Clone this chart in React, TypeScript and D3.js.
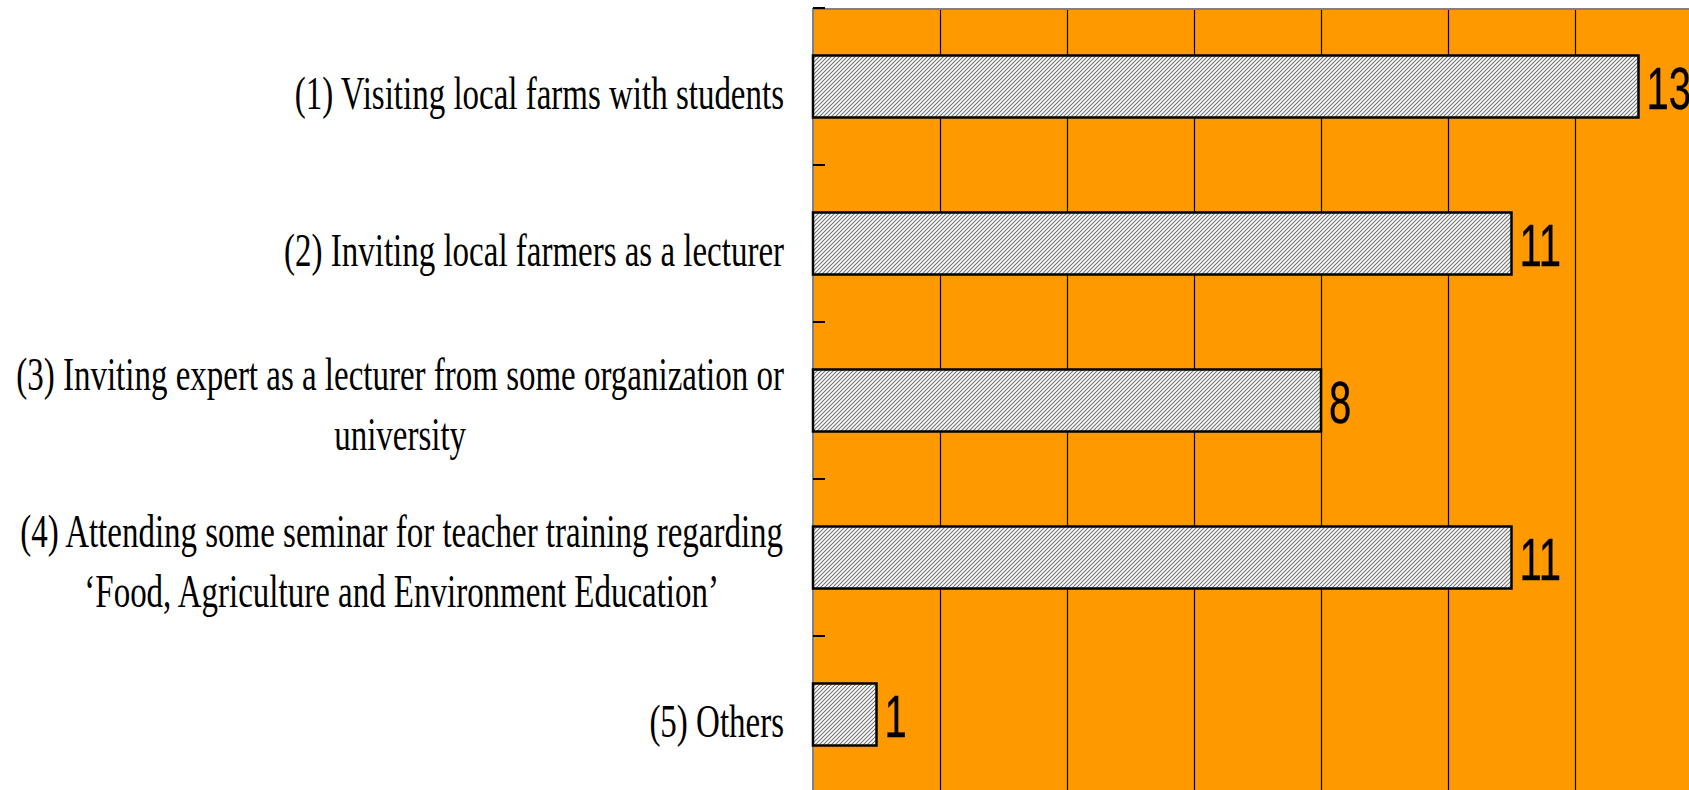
import React, { useMemo } from "react";
import * as d3 from "d3";

const categories = ["c1", "c2", "c3", "c4", "c5"];
const categoryLines: string[][] = [
  ["(1) Visiting local farms with students"],
  ["(2) Inviting local farmers as a lecturer"],
  ["(3) Inviting expert as a lecturer from some organization or", "university"],
  ["(4) Attending some seminar for teacher training regarding", "\u2018Food, Agriculture and Environment Education\u2019"],
  ["(5) Others"],
];
const values = [13, 11, 8, 11, 1];
const xDomain = [0, 14];
const gridTicks = [2, 4, 6, 8, 10, 12, 14];

const W = 1689;
const H = 790;
const LABEL_FONT = 46;
const LABEL_SX = 0.717;
const LINE_H = 60;

export default function App() {
  const x = d3.scaleLinear().domain(xDomain).range([813, 1702]);
  const y = d3
    .scaleBand<string>()
    .domain(categories)
    .range([8, 793])
    .paddingInner(0.605)
    .paddingOuter(0.3025);
  const step = y.step();
  const bw = y.bandwidth();
  const boundaries = categories.map((c) => (y(c) as number) + bw / 2 - step / 2);

  const measure = useMemo(() => {
    const cv = document.createElement("canvas");
    const ctx = cv.getContext("2d") as CanvasRenderingContext2D;
    ctx.font = `${LABEL_FONT}px "Liberation Serif", "Times New Roman", serif`;
    return (s: string) => ctx.measureText(s).width * LABEL_SX;
  }, []);

  const labelRight = 784;

  return (
    <svg
      width={W}
      height={H}
      style={{ position: "absolute", left: 0, top: 0, background: "#fff" }}
    >
      <defs>
        <pattern id="hatch" patternUnits="userSpaceOnUse" width="4" height="4">
          <rect width="4" height="4" fill="#ffffff" />
          <path d="M-1,1 l2,-2 M0,4 l4,-4 M3,5 l2,-2" stroke="#777777" strokeWidth="1.2" />
        </pattern>
        <clipPath id="clip">
          <rect x={0} y={0} width={W} height={H} />
        </clipPath>
      </defs>
      <g clipPath="url(#clip)">
        <rect x={x(0)} y={9} width={W - x(0)} height={H - 9} fill="#FF9900" />
        {gridTicks.map((t) => (
          <line
            key={t}
            x1={Math.round(x(t)) + 0.5}
            x2={Math.round(x(t)) + 0.5}
            y1={9}
            y2={H}
            stroke="#000"
            strokeWidth={1.2}
          />
        ))}
        <line x1={x(0)} x2={W} y1={9} y2={9} stroke="#808080" strokeWidth={2} />
        <line x1={x(0)} x2={x(0)} y1={8} y2={H} stroke="#808080" strokeWidth={2} />
        {boundaries.map((b, i) => (
          <line key={i} x1={x(0)} x2={x(0) + 12} y1={b} y2={b} stroke="#000" strokeWidth={2} />
        ))}
        {categories.map((c, i) => (
          <rect
            key={c}
            x={x(0)}
            y={y(c) as number}
            width={x(values[i]) - x(0)}
            height={bw}
            fill="url(#hatch)"
            stroke="#000"
            strokeWidth={2.5}
          />
        ))}
        {categories.map((c, i) => {
          const cy = (y(c) as number) + bw / 2;
          return (
            <text
              key={c}
              transform={`translate(${x(values[i]) + 8},${cy + 22}) scale(0.68,1)`}
              fontFamily='"Liberation Sans", Arial, sans-serif'
              fontSize={59}
              fill="#000"
              stroke="#000"
              strokeWidth={0.3}
            >
              {values[i]}
            </text>
          );
        })}
        {categories.map((c, i) => {
          const cy = (y(c) as number) + bw / 2;
          const lines = categoryLines[i];
          const n = lines.length;
          const widths = lines.map(measure);
          const blockW = Math.max(...widths);
          const cx = labelRight - blockW / 2;
          return (
            <g key={c}>
              {lines.map((ln, j) => {
                const base = cy + 22 - ((n - 1) * LINE_H) / 2 + j * LINE_H - (n > 1 ? 3 : 0);
                const tx = n > 1 ? cx : labelRight;
                return (
                  <text
                    key={j}
                    transform={`translate(${tx},${base}) scale(${LABEL_SX},1)`}
                    textAnchor={n > 1 ? "middle" : "end"}
                    fontFamily='"Liberation Serif", "Times New Roman", serif'
                    fontSize={LABEL_FONT}
                    fill="#000"
                  >
                    {ln}
                  </text>
                );
              })}
            </g>
          );
        })}
      </g>
    </svg>
  );
}
